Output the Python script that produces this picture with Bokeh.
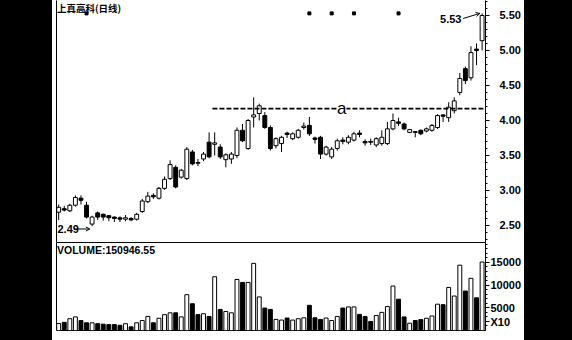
from bokeh.plotting import figure
from bokeh.models import (Range1d, LinearAxis, FixedTicker, Label, Arrow, OpenHead,
                          ColumnDataSource, Spacer, NumeralTickFormatter)
from bokeh.layouts import row, column
from bokeh.embed import file_html
from bokeh.resources import INLINE

# ---------------- data ----------------
opens = [2.69, 2.74, 2.71, 2.79, 2.89, 2.79, 2.52, 2.68, 2.66, 2.64,
         2.62, 2.61, 2.59, 2.60, 2.59, 2.70, 2.84, 2.93, 2.89, 3.03,
         3.17, 3.33, 3.19, 3.17, 3.55, 3.40, 3.45, 3.69, 3.66, 3.62,
         3.44, 3.45, 3.50, 3.86, 3.60, 4.05, 4.10, 4.07, 3.90, 3.64,
         3.67, 3.82, 3.74, 3.76, 3.90, 3.93, 3.75, 3.76, 3.52, 3.48,
         3.60, 3.72, 3.69, 3.72, 3.82, 3.70, 3.70, 3.65, 3.67, 3.67,
         3.88, 3.98, 3.95, 3.83, 3.84, 3.86, 3.85, 3.86, 3.90, 4.08,
         4.04, 4.14, 4.40, 4.74, 4.61, 5.02, 5.14]
highs = [2.80, 2.78, 2.81, 2.93, 2.93, 2.84, 2.64, 2.70, 2.67, 2.65,
         2.63, 2.63, 2.65, 2.62, 2.68, 2.88, 2.98, 2.96, 3.05, 3.20,
         3.43, 3.36, 3.31, 3.62, 3.58, 3.45, 3.55, 3.83, 3.83, 3.66,
         3.53, 3.55, 3.90, 3.95, 4.02, 4.33, 4.24, 4.12, 3.93, 3.76,
         3.78, 3.84, 3.83, 3.88, 3.97, 4.05, 3.77, 3.78, 3.64, 3.62,
         3.74, 3.76, 3.79, 3.84, 3.86, 3.73, 3.74, 3.76, 3.86, 3.98,
         4.10, 4.04, 3.97, 3.88, 3.85, 3.87, 3.90, 3.95, 4.09, 4.09,
         4.26, 4.33, 4.68, 4.77, 5.06, 5.10, 5.53]
lows = [2.58, 2.70, 2.69, 2.77, 2.80, 2.60, 2.49, 2.58, 2.57, 2.56,
        2.55, 2.55, 2.56, 2.56, 2.57, 2.68, 2.82, 2.88, 2.87, 3.01,
        3.15, 3.03, 3.17, 3.15, 3.36, 3.35, 3.42, 3.46, 3.50, 3.45,
        3.33, 3.38, 3.46, 3.69, 3.58, 3.90, 4.00, 3.88, 3.57, 3.60,
        3.55, 3.75, 3.72, 3.74, 3.87, 3.78, 3.67, 3.45, 3.50, 3.45,
        3.57, 3.66, 3.66, 3.70, 3.76, 3.64, 3.65, 3.62, 3.64, 3.65,
        3.86, 3.92, 3.86, 3.82, 3.76, 3.79, 3.83, 3.84, 3.88, 3.98,
        3.98, 4.10, 4.36, 4.52, 4.57, 4.79, 5.00]
closes = [2.76, 2.72, 2.79, 2.90, 2.86, 2.62, 2.62, 2.62, 2.62, 2.61,
          2.60, 2.59, 2.61, 2.58, 2.66, 2.85, 2.92, 2.91, 3.03, 3.16,
          3.37, 3.05, 3.29, 3.59, 3.38, 3.39, 3.52, 3.48, 3.68, 3.48,
          3.51, 3.52, 3.86, 3.71, 4.00, 4.08, 4.21, 3.90, 3.60, 3.74,
          3.76, 3.80, 3.81, 3.86, 3.92, 3.81, 3.73, 3.52, 3.62, 3.59,
          3.71, 3.70, 3.76, 3.81, 3.80, 3.68, 3.69, 3.74, 3.76, 3.88,
          4.00, 3.96, 3.88, 3.87, 3.83, 3.81, 3.88, 3.93, 4.07, 4.06,
          4.19, 4.28, 4.60, 4.57, 4.97, 5.00, 5.50]
volumes = [1550, 1800, 2600, 3000, 2200, 1700, 1700, 1500, 1400, 1300,
           1300, 1150, 1500, 800, 1700, 2200, 3100, 1700, 2700, 3500,
           3900, 3900, 3000, 7900, 5900, 3500, 3700, 3100, 11850, 4650,
           4200, 3900, 11250, 10600, 10600, 14800, 7400, 4950, 4650, 2450,
           2300, 2750, 2300, 2600, 2800, 5550, 2800, 2450, 2750, 2200,
           3100, 4950, 5200, 5200, 3550, 3100, 2000, 3300, 4000, 5300,
           9800, 6900, 3000, 1600, 2200, 2400, 2700, 3200, 5800, 5700,
           9500, 7600, 14400, 8700, 11500, 7200, 15095]
price_ticks = [2.5, 3.0, 3.5, 4.0, 4.5, 5.0, 5.5]
price_minor = [round(2.3 + 0.1 * k, 2) for k in range(35)]
vol_ticks = [5000, 10000, 15000]
vol_minor = [1000 * k for k in range(1, 20)]
unit_tick = 1875

title_text = "上真高科(日线)"
volume_text = "VOLUME:150946.55"
unit_text = "X10"
resistance_level = 4.17
resistance_x = [27.6, 76.6]
resistance_name = "a"
resistance_name_x = 50.8
signal_idx = [5, 45, 49, 53, 61]
signal_level = 5.53
high_text = "5.53"
low_text = "2.49"

idx = list(range(len(opens)))
up = [c >= o for o, c in zip(opens, closes)]
fills = ["white" if u else "black" for u in up]
src = ColumnDataSource(dict(
    x=idx, o=opens, h=highs, l=lows, c=closes, v=volumes,
    top=[max(o, c) for o, c in zip(opens, closes)],
    bot=[min(o, c) for o, c in zip(opens, closes)],
    fill=fills))

FONT = "Liberation Sans"
W = 472
xr = Range1d(-0.39, 76.61)

# ---------------- price panel ----------------
p1 = figure(width=W, height=242, x_range=xr, y_range=Range1d(2.257, 5.714),
            output_backend="svg", toolbar_location=None,
            x_axis_location=None, y_axis_location=None,
            min_border_left=4, min_border_right=W - 436, min_border_top=0, min_border_bottom=0)
p1.outline_line_color = None
p1.grid.visible = False
p1.background_fill_color = "white"
p1.border_fill_color = "white"

ax = LinearAxis(ticker=FixedTicker(ticks=price_ticks, minor_ticks=price_minor),
                formatter=NumeralTickFormatter(format="0.00"))
ax.major_tick_in = 0
ax.major_tick_out = 4
ax.minor_tick_in = 0
ax.minor_tick_out = 2
ax.major_label_standoff = 10
ax.major_label_text_font = FONT
ax.major_label_text_font_style = "bold"
ax.major_label_text_font_size = "11px"
ax.major_label_text_color = "black"
ax.axis_line_color = "black"
p1.add_layout(ax, "right")

lax = LinearAxis(ticker=FixedTicker(ticks=[]), major_label_text_font_size="0px",
                 major_tick_out=0, major_tick_in=0, minor_tick_out=0, minor_tick_in=0,
                 major_label_standoff=0, axis_line_color="black")
p1.add_layout(lax, "left")

p1.segment(x0="x", y0="l", x1="x", y1="h", source=src, line_color="black", line_width=1)
p1.vbar(x="x", width=0.7, top="top", bottom="bot", source=src,
        fill_color="fill", line_color="black", line_width=1)

p1.line(x=resistance_x, y=[resistance_level] * 2, line_color="black",
        line_width=1.6, line_dash="5 2")
p1.add_layout(Label(x=resistance_name_x, y=resistance_level, text=resistance_name,
                    text_align="center", text_baseline="middle", text_font=FONT,
                    text_font_size="17px", text_color="black",
                    background_fill_color="white"))

p1.scatter(x=signal_idx, y=[signal_level] * len(signal_idx), marker="square",
           size=3, fill_color="black", line_color="black")

p1.add_layout(Label(x=-0.3, y=5.714, text=title_text, text_align="left",
                    text_baseline="top", text_font="Noto Sans CJK SC",
                    text_font_style="bold", text_font_size="9.5px", text_color="black"))

p1.add_layout(Label(x=72.3, y=5.443, text=high_text, text_align="right",
                    text_baseline="middle", text_font=FONT, text_font_style="bold",
                    text_font_size="11px", text_color="black"))
p1.add_layout(Arrow(end=OpenHead(size=4, line_color="black", line_width=1),
                    x_start=72.6, y_start=5.457, x_end=75.6, y_end=5.53,
                    line_color="black", line_width=1))

p1.add_layout(Label(x=-0.21, y=2.45, text=low_text, text_align="left",
                    text_baseline="middle", text_font=FONT, text_font_style="bold",
                    text_font_size="11px", text_color="black"))
p1.add_layout(Arrow(end=OpenHead(size=4, line_color="black", line_width=1),
                    x_start=2.75, y_start=2.45, x_end=5.6, y_end=2.45,
                    line_color="black", line_width=1))

# ---------------- volume panel ----------------
p2 = figure(width=W, height=98, x_range=xr, y_range=Range1d(0, 19400),
            output_backend="svg", toolbar_location=None,
            x_axis_location=None, y_axis_location=None,
            min_border_left=4, min_border_right=W - 436, min_border_top=0, min_border_bottom=10)
p2.outline_line_color = "black"
p2.outline_line_width = 1
p2.grid.visible = False
p2.background_fill_color = "white"
p2.border_fill_color = "white"

vax = LinearAxis(ticker=FixedTicker(ticks=[unit_tick] + vol_ticks, minor_ticks=vol_minor),
                 formatter=NumeralTickFormatter(format="0"),
                 major_label_overrides={unit_tick: unit_text})
vax.major_tick_in = 0
vax.major_tick_out = 4
vax.minor_tick_in = 0
vax.minor_tick_out = 2
vax.major_label_standoff = 1
vax.major_label_text_font = FONT
vax.major_label_text_font_style = "bold"
vax.major_label_text_font_size = "11px"
vax.major_label_text_color = "black"
vax.axis_line_color = "black"
p2.add_layout(vax, "right")

p2.vbar(x="x", width=0.7, top="v", bottom=0, source=src,
        fill_color="fill", line_color="black", line_width=1)

p2.add_layout(Label(x=-0.3, y=18970, text=volume_text, text_align="left",
                    text_baseline="top", text_font=FONT, text_font_style="bold",
                    text_font_size="10.5px", text_color="black"))

left = Spacer(width=52, height=340, styles={"background-color": "black"})
right = Spacer(width=572 - 52 - W, height=340, styles={"background-color": "black"})
layout = row(left, column(p1, p2), right)

open("out.html", "w").write(file_html(layout, INLINE))
